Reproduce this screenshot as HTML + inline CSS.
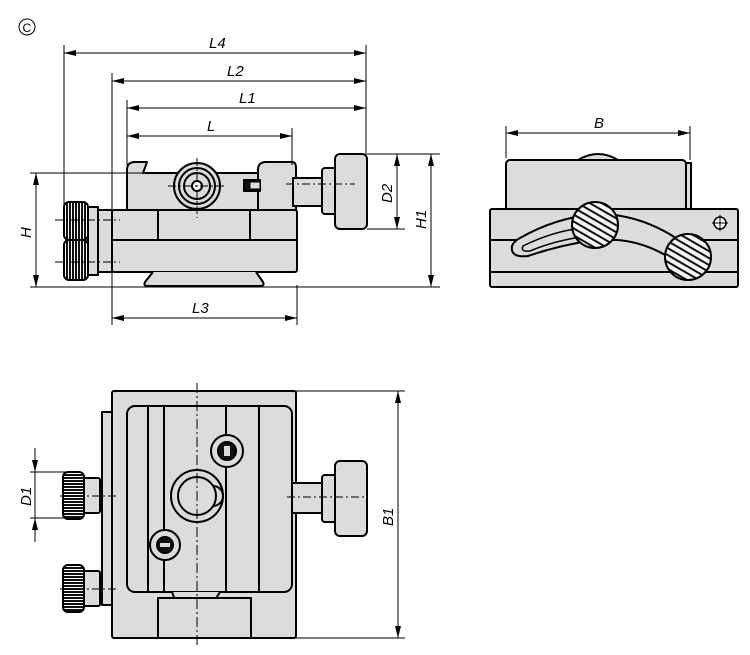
<!DOCTYPE html>
<html><head><meta charset="utf-8"><style>
html,body{margin:0;padding:0;background:#fff;}
svg{display:block;}
text{font-family:"Liberation Sans",sans-serif;font-style:italic;font-size:15px;fill:#000;}
</style></head><body>
<svg width="750" height="655" viewBox="0 0 750 655" xmlns="http://www.w3.org/2000/svg">
<defs>
<marker id="a" viewBox="0 0 12 6" refX="12" refY="3" markerWidth="12" markerHeight="6" orient="auto-start-reverse" markerUnits="userSpaceOnUse"><path d="M0,0 L12,3 L0,6z" fill="#000"/></marker>
<pattern id="kn" width="3" height="40" patternUnits="userSpaceOnUse"><rect width="3" height="40" fill="#fff"/><rect width="2" height="40" fill="#111"/></pattern>
<pattern id="kh" width="40" height="3" patternUnits="userSpaceOnUse"><rect width="40" height="3" fill="#fff"/><rect width="40" height="2" fill="#111"/></pattern>
<pattern id="hat" width="6" height="6" patternUnits="userSpaceOnUse" patternTransform="rotate(30)"><rect width="6" height="6" fill="#f4f4f4"/><rect width="6" height="2" fill="#111"/></pattern>
</defs>
<g fill="none" stroke="#000" stroke-width="1">
<circle cx="27" cy="27" r="8"/>
</g>
<text x="22.5" y="32" style="font-style:normal;font-size:12px">C</text>

<!-- ===== FRONT VIEW ===== -->
<g stroke="#000" stroke-width="2" fill="#dcdcdc" stroke-linejoin="round">
<path d="M127,210 L127,170 Q127,162 135,162 L147,162 L143,173 L262,173 L262,210 Z"/>
<path d="M258,210 L258,170 Q258,162 266,162 L292,162 Q296,162 296,168 L296,210 Z"/>
<circle cx="197" cy="186" r="23"/>
<circle cx="197" cy="186" r="18"/>
<circle cx="197" cy="186" r="13" fill="#dcdcdc"/>
<circle cx="197" cy="186" r="5" fill="#fff"/>
<rect x="244" y="180" width="16" height="11" fill="#111"/>
<rect x="250" y="182" width="10" height="7" fill="#dcdcdc" stroke-width="1"/>
<rect x="112" y="210" width="185" height="62" rx="2"/>
<line x1="112" y1="240" x2="297" y2="240"/>
<path d="M158,210 L158,240 M250,210 L250,240"/>
<path d="M153,272 L145,282 Q143,286 148,286 L260,286 Q265,286 263,282 L256,272"/>
<rect x="293" y="178" width="30" height="28"/>
<rect x="322" y="168" width="15" height="46" rx="3"/>
<rect x="335" y="154" width="32" height="75" rx="5"/>
<rect x="98" y="210" width="14" height="62"/>
<rect x="88" y="207" width="10" height="68"/>
<rect x="64" y="202" width="24" height="38" rx="5" fill="url(#kn)"/>
<rect x="64" y="240" width="24" height="40" rx="5" fill="url(#kn)"/>
</g>
<g stroke="#000" stroke-width="1" fill="none">
<path d="M197,158 V218 M168,186 H226" stroke-dasharray="8,3,2,3"/>
<path d="M286,184 H355" stroke-dasharray="8,3,2,3"/>
<path d="M55,220 H120 M55,262 H120" stroke-dasharray="8,3,2,3"/>
<path d="M64,45 V205 M112,73 V325 M127,100 V165 M292,128 V165 M366,45 V155 M297,285 V325"/>
<path d="M30,173 H150 M30,287 H440 M367,154 H440 M367,229 H405"/>
<line x1="64" y1="53" x2="366" y2="53" marker-start="url(#a)" marker-end="url(#a)"/>
<line x1="112" y1="81" x2="366" y2="81" marker-start="url(#a)" marker-end="url(#a)"/>
<line x1="127" y1="108" x2="366" y2="108" marker-start="url(#a)" marker-end="url(#a)"/>
<line x1="127" y1="136" x2="292" y2="136" marker-start="url(#a)" marker-end="url(#a)"/>
<line x1="112" y1="318" x2="297" y2="318" marker-start="url(#a)" marker-end="url(#a)"/>
<line x1="36" y1="173" x2="36" y2="287" marker-start="url(#a)" marker-end="url(#a)"/>
<line x1="397" y1="154" x2="397" y2="229" marker-start="url(#a)" marker-end="url(#a)"/>
<line x1="431" y1="154" x2="431" y2="287" marker-start="url(#a)" marker-end="url(#a)"/>
</g>
<text x="209" y="48">L4</text>
<text x="227" y="76">L2</text>
<text x="239" y="103">L1</text>
<text x="207" y="131">L</text>
<text x="192" y="313">L3</text>
<text transform="translate(31,238) rotate(-90)">H</text>
<text transform="translate(392,203) rotate(-90)">D2</text>
<text transform="translate(426,229) rotate(-90)">H1</text>

<!-- ===== SIDE VIEW ===== -->
<g stroke="#000" stroke-width="2" fill="#dcdcdc" stroke-linejoin="round">
<path d="M578,160 Q598,148 618,160"/>
<rect x="506" y="160" width="180" height="52" rx="4"/>
<rect x="686" y="163" width="5" height="46"/>
<rect x="490" y="209" width="248" height="78" rx="2"/>
<line x1="490" y1="240" x2="738" y2="240"/>
<line x1="490" y1="272" x2="738" y2="272"/>
<path d="M520,238 Q555,218 595,214 Q645,213 690,248 L676,262 Q640,236 595,240 Q560,245 528,256 Q510,258 512,246 Q514,241 520,238 Z"/>
<path d="M523,246 Q555,230 590,227 L588,236 Q556,240 530,251 Q520,252 523,246 Z" fill="#dcdcdc" stroke-width="1.5"/>
<circle cx="595" cy="225" r="23" fill="url(#hat)"/>
<circle cx="688" cy="257" r="23" fill="url(#hat)"/>
<circle cx="720" cy="223" r="6" fill="#fff" stroke-width="1.5"/>
</g>
<g stroke="#000" stroke-width="1" fill="none">
<path d="M712,223 H728 M720,215 V231"/>
<path d="M506,126 V158 M690,126 V160"/>
<line x1="506" y1="133" x2="690" y2="133" marker-start="url(#a)" marker-end="url(#a)"/>
</g>
<text x="594" y="128">B</text>

<!-- ===== BOTTOM VIEW ===== -->
<g stroke="#000" stroke-width="2" fill="#dcdcdc" stroke-linejoin="round">
<rect x="102" y="412" width="10" height="193"/>
<rect x="112" y="391" width="184" height="247" rx="2"/>
<rect x="127" y="406" width="165" height="186" rx="8"/>
<path d="M148,406 V592 M164,406 V592 M226,406 V592 M259,406 V592"/>
<path d="M172,592 L175,600 L215,600 L220,592"/>
<rect x="158" y="598" width="93" height="40"/>
<circle cx="197" cy="496" r="26"/>
<circle cx="213" cy="496" r="10"/>
<circle cx="197" cy="496" r="19"/>
<circle cx="227" cy="451" r="16"/>
<circle cx="227" cy="451" r="9" fill="#111"/>
<rect x="224" y="446" width="6" height="10" fill="#dcdcdc" stroke="none"/>
<circle cx="165" cy="545" r="15"/>
<circle cx="165" cy="545" r="8" fill="#111"/>
<rect x="160" y="543" width="10" height="4" fill="#dcdcdc" stroke="none"/>
<rect x="292" y="483" width="30" height="30"/>
<rect x="322" y="475" width="15" height="47" rx="3"/>
<rect x="335" y="461" width="32" height="75" rx="5"/>
<rect x="82" y="478" width="18" height="35" rx="2"/>
<rect x="63" y="472" width="21" height="47" rx="5" fill="url(#kh)"/>
<rect x="82" y="571" width="18" height="35" rx="2"/>
<rect x="63" y="565" width="21" height="47" rx="5" fill="url(#kh)"/>
</g>
<g stroke="#000" stroke-width="1" fill="none">
<path d="M197,383 V648" stroke-dasharray="10,3,2,3"/>
<path d="M287,497 H365 M60,496 H118 M60,589 H118" stroke-dasharray="8,3,2,3"/>
<path d="M296,391 H405 M296,638 H405 M30,472 H70 M30,518 H70"/>
<line x1="398" y1="391" x2="398" y2="638" marker-start="url(#a)" marker-end="url(#a)"/>
<line x1="35" y1="448" x2="35" y2="472" marker-end="url(#a)"/>
<line x1="35" y1="542" x2="35" y2="518" marker-end="url(#a)"/>
<line x1="35" y1="472" x2="35" y2="518"/>
</g>
<text transform="translate(31,506) rotate(-90)">D1</text>
<text transform="translate(393,526) rotate(-90)">B1</text>
</svg>
</body></html>
